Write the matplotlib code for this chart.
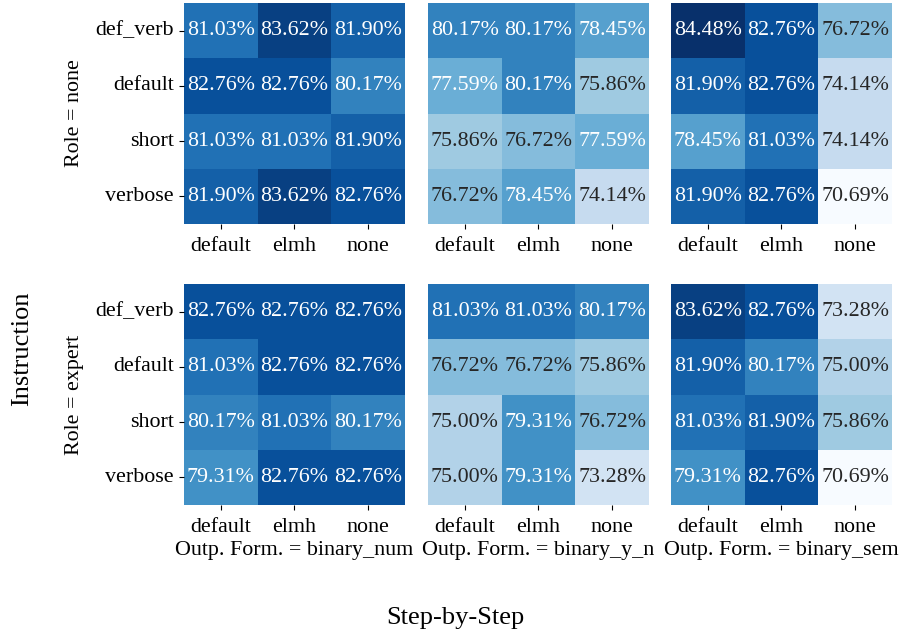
#!/usr/bin/env python3
import numpy as np
import matplotlib
matplotlib.use("Agg")
import matplotlib.pyplot as plt
import seaborn as sns

# axis categories
instructions = ["def_verb", "default", "short", "verbose"]
steps = ["default", "elmh", "none"]
roles = ["none", "expert"]
formats = ["binary_num", "binary_y_n", "binary_sem"]

# accuracy in %, rows = instruction, cols = step-by-step
none_num = [[81.03, 83.62, 81.90],
            [82.76, 82.76, 80.17],
            [81.03, 81.03, 81.90],
            [81.90, 83.62, 82.76]]
none_yn = [[80.17, 80.17, 78.45],
           [77.59, 80.17, 75.86],
           [75.86, 76.72, 77.59],
           [76.72, 78.45, 74.14]]
none_sem = [[84.48, 82.76, 76.72],
            [81.90, 82.76, 74.14],
            [78.45, 81.03, 74.14],
            [81.90, 82.76, 70.69]]
expert_num = [[82.76, 82.76, 82.76],
              [81.03, 82.76, 82.76],
              [80.17, 81.03, 80.17],
              [79.31, 82.76, 82.76]]
expert_yn = [[81.03, 81.03, 80.17],
             [76.72, 76.72, 75.86],
             [75.00, 79.31, 76.72],
             [75.00, 79.31, 73.28]]
expert_sem = [[83.62, 82.76, 73.28],
              [81.90, 80.17, 75.00],
              [81.03, 81.90, 75.86],
              [79.31, 82.76, 70.69]]

grids = [[none_num, none_yn, none_sem],
         [expert_num, expert_yn, expert_sem]]

fs = 15.8
plt.rcParams['font.family'] = ['Liberation Serif', 'DejaVu Serif']
plt.rcParams['font.size'] = fs

vmin = min(np.min(g) for row in grids for g in row)
vmax = max(np.max(g) for row in grids for g in row)

fig = plt.figure(figsize=(9.01, 6.35), dpi=100)

lefts = [0.2042, 0.475, 0.7447]
bottoms = [0.6472, 0.2047]
w, h = 0.2453, 0.348

for r, role in enumerate(roles):
    for c, form in enumerate(formats):
        ax = fig.add_axes([lefts[c], bottoms[r], w, h])
        vals = np.array(grids[r][c])
        labels = np.vectorize(lambda v: "{0:.2f}%".format(v))(vals)
        sns.heatmap(vals, ax=ax, cmap="Blues", vmin=vmin, vmax=vmax,
                    annot=labels, fmt="", cbar=False,
                    annot_kws={"fontsize": fs},
                    xticklabels=steps, yticklabels=instructions)
        ax.tick_params(axis='x', rotation=0, labelsize=fs, pad=6)
        ax.tick_params(axis='y', rotation=0, labelsize=fs, pad=4)
        if c == 0:
            ax.set_ylabel("Role = " + role, fontsize=fs, labelpad=8)
        else:
            ax.set_yticks([])
            ax.set_ylabel("")
        if r == 1:
            ax.set_xlabel("Outp. Form. = " + form, fontsize=fs, labelpad=3)

fig.text(0.505, 0.027, "Step-by-Step", ha='center', va='center', fontsize=19)
fig.text(0.025, 0.45, "Instruction", ha='center', va='center', rotation=90, fontsize=19)

plt.savefig("out.png", dpi=100)
